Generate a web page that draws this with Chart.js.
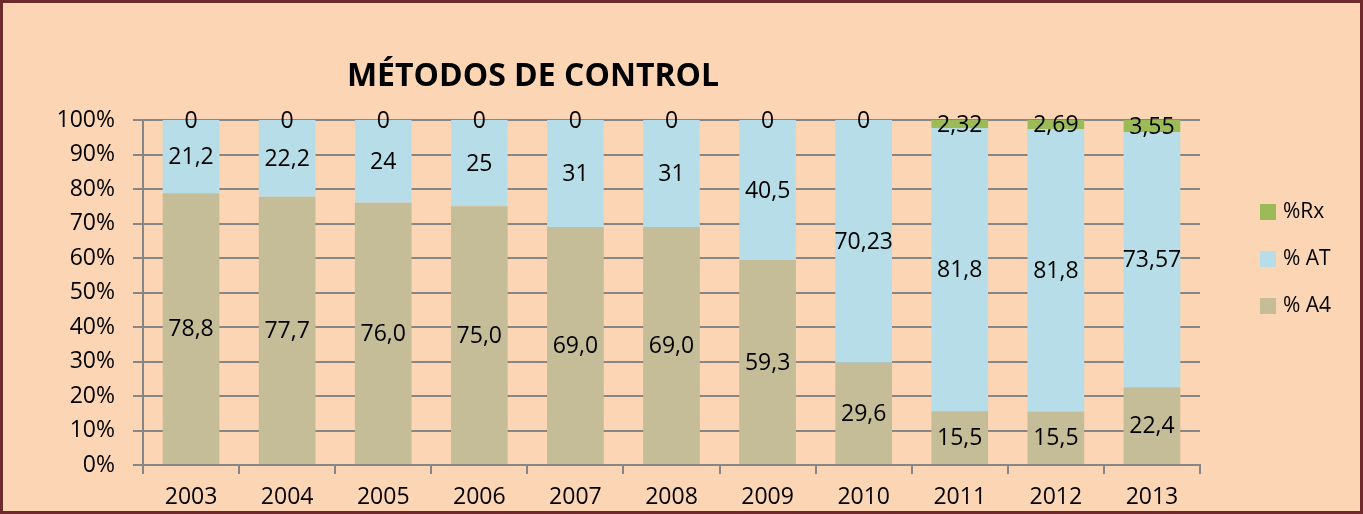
<!DOCTYPE html>
<html>
<head>
<meta charset="utf-8">
<script src="https://cdn.jsdelivr.net/npm/chart.js@4/dist/chart.umd.min.js"></script>
<style>
  body { margin: 0; }
  #wrap { position: relative; width: 1363px; height: 514px; background: #FCD5B5; }
  #frame { position: absolute; left: 0; top: 0; width: 1363px; height: 514px; box-sizing: border-box; border: 3px solid #6E2A2A; pointer-events: none; }
</style>
</head>
<body>
<div id="wrap">
  <canvas id="chart" width="1363" height="514"></canvas>
  <div id="frame"></div>
</div>
<script>
// datos
const years = ["2003", "2004", "2005", "2006", "2007", "2008", "2009", "2010", "2011", "2012", "2013"];
const a4 = [78.8, 77.7, 76.0, 75.0, 69.0, 69.0, 59.3, 29.6, 15.5, 15.5, 22.4];
const at = [21.2, 22.2, 24, 25, 31, 31, 40.5, 70.23, 81.8, 81.8, 73.57];
const rx = [0, 0, 0, 0, 0, 0, 0, 0, 2.32, 2.69, 3.55];
const seriesNames = ["% A4", "% AT", "%Rx"];
const yTicks = [0, 10, 20, 30, 40, 50, 60, 70, 80, 90, 100];
const title = "MÉTODOS DE CONTROL";

// 100% apilado
const totals = years.map((_, i) => a4[i] + at[i] + rx[i]);
const pct = (arr) => arr.map((v, i) => (v / totals[i]) * 100);

const fmt = (v, fixed) => (fixed ? v.toFixed(1) : String(v)).replace(".", ",");
const rawLabels = [
  a4.map((v) => fmt(v, true)),
  at.map((v) => fmt(v, false)),
  rx.map((v) => fmt(v, false)),
];

const FONT = "'Open Sans', 'Liberation Sans', sans-serif";
const GRID = "#868686";

const labelsPlugin = {
  id: "labelsPlugin",
  afterDatasetsDraw(chart) {
    const ctx = chart.ctx;
    ctx.save();
    ctx.fillStyle = "#000";
    ctx.font = "23px " + FONT;
    ctx.textAlign = "center";
    ctx.textBaseline = "middle";
    chart.data.datasets.forEach((ds, di) => {
      const meta = chart.getDatasetMeta(di);
      meta.data.forEach((el, i) => {
        const p = el.getProps(["x", "y", "base"], true);
        ctx.fillText(rawLabels[di][i], p.x, (p.y + p.base) / 2 + 1);
      });
    });
    ctx.restore();
  },
  afterDraw(chart) {
    const ctx = chart.ctx;
    ctx.save();
    // titulo
    ctx.fillStyle = "#000";
    ctx.font = "bold 32px " + FONT;
    ctx.textAlign = "center";
    ctx.textBaseline = "middle";
    ctx.fillText(title, 533, 77);
    // leyenda
    ctx.font = "21px " + FONT;
    ctx.textAlign = "left";
    const ds = chart.data.datasets;
    for (let k = 0; k < ds.length; k++) {
      const d = ds[ds.length - 1 - k];
      const y = 212 + k * 47;
      ctx.fillStyle = d.backgroundColor;
      ctx.fillRect(1260, y - 8, 16, 16);
      ctx.fillStyle = "#000";
      ctx.fillText(d.label, 1283, y);
    }
    ctx.restore();
  },
};

new Chart(document.getElementById("chart"), {
  type: "bar",
  data: {
    labels: years,
    datasets: [
      { label: seriesNames[0], data: pct(a4), backgroundColor: "#C4BD97" },
      { label: seriesNames[1], data: pct(at), backgroundColor: "#B7DEE8" },
      { label: seriesNames[2], data: pct(rx), backgroundColor: "#9BBB59" },
    ],
  },
  options: {
    responsive: false,
    animation: false,
    layout: { padding: { left: 0, right: 163, top: 120, bottom: 0 } },
    datasets: { bar: { barPercentage: 0.59, categoryPercentage: 1 } },
    plugins: {
      legend: { display: false },
      title: { display: false },
      tooltip: { enabled: false },
    },
    scales: {
      x: {
        stacked: true,
        afterFit: (s) => { s.height = 49; },
        grid: { drawOnChartArea: false, color: GRID, lineWidth: 2, tickLength: 9, offset: true },
        border: { color: GRID, width: 2 },
        ticks: { color: "#000", font: { family: FONT, size: 23 }, padding: 10 },
      },
      y: {
        stacked: true,
        min: 0,
        max: 100,
        afterFit: (s) => { s.width = 143; },
        afterBuildTicks: (s) => { s.ticks = yTicks.map((v) => ({ value: v })); },
        grid: { color: GRID, lineWidth: 2, tickLength: 10 },
        border: { color: GRID, width: 2 },
        ticks: { color: "#000", font: { family: FONT, size: 23 }, padding: 18, callback: (v) => v + "%" },
      },
    },
  },
  plugins: [labelsPlugin],
});
</script>
</body>
</html>
